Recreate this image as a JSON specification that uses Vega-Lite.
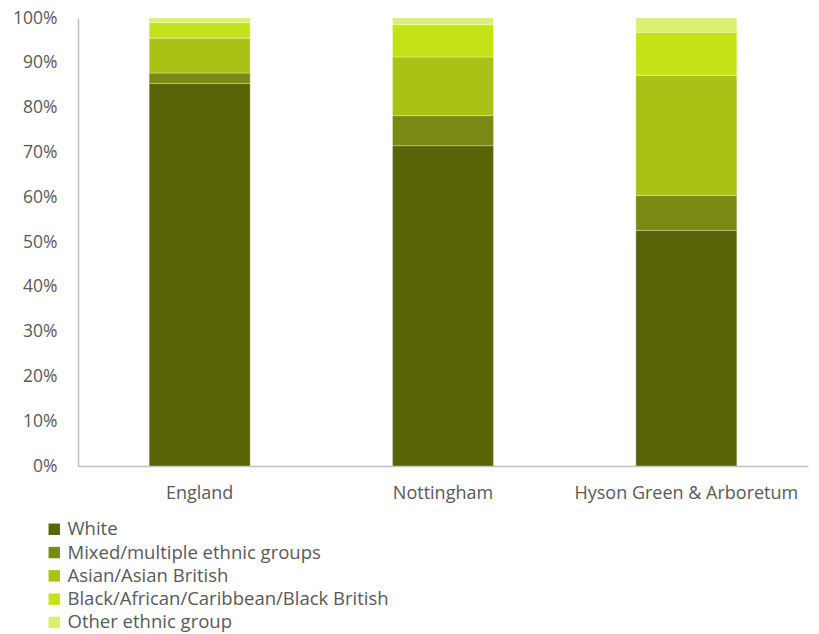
{
  "$schema": "https://vega.github.io/schema/vega-lite/v6.json",
  "autosize": {"type": "none"},
  "padding": {"left": 78, "top": 18, "right": 11, "bottom": 168},
  "width": 730,
  "height": 448,
  "background": "#ffffff",
  "config": {
    "view": {"stroke": null},
    "font": "Open Sans"
  },
  "data": {
    "values": [
      {"area": "England", "group": "White", "k": 1, "value": 85.4},
      {"area": "England", "group": "Mixed/multiple ethnic groups", "k": 2, "value": 2.3},
      {"area": "England", "group": "Asian/Asian British", "k": 3, "value": 7.8},
      {"area": "England", "group": "Black/African/Caribbean/Black British", "k": 4, "value": 3.5},
      {"area": "England", "group": "Other ethnic group", "k": 5, "value": 1.0},
      {"area": "Nottingham", "group": "White", "k": 1, "value": 71.5},
      {"area": "Nottingham", "group": "Mixed/multiple ethnic groups", "k": 2, "value": 6.7},
      {"area": "Nottingham", "group": "Asian/Asian British", "k": 3, "value": 13.1},
      {"area": "Nottingham", "group": "Black/African/Caribbean/Black British", "k": 4, "value": 7.2},
      {"area": "Nottingham", "group": "Other ethnic group", "k": 5, "value": 1.5},
      {"area": "Hyson Green & Arboretum", "group": "White", "k": 1, "value": 52.6},
      {"area": "Hyson Green & Arboretum", "group": "Mixed/multiple ethnic groups", "k": 2, "value": 7.8},
      {"area": "Hyson Green & Arboretum", "group": "Asian/Asian British", "k": 3, "value": 26.8},
      {"area": "Hyson Green & Arboretum", "group": "Black/African/Caribbean/Black British", "k": 4, "value": 9.6},
      {"area": "Hyson Green & Arboretum", "group": "Other ethnic group", "k": 5, "value": 3.2}
    ]
  },
  "mark": {"type": "bar", "stroke": "#ffffff", "strokeWidth": 0.5, "strokeOpacity": 0.6},
  "encoding": {
    "x": {
      "field": "area",
      "type": "nominal",
      "sort": ["England", "Nottingham", "Hyson Green & Arboretum"],
      "scale": {"paddingInner": 0.585, "paddingOuter": 0.2925},
      "axis": {
        "title": null,
        "labelAngle": 0,
        "labelFontSize": 18,
        "labelColor": "#595959",
        "labelPadding": 18,
        "labelLimit": 400,
        "ticks": false,
        "domainColor": "#bfbfbf",
        "domainWidth": 1.5
      }
    },
    "y": {
      "field": "value",
      "type": "quantitative",
      "stack": "normalize",
      "scale": {"domain": [0, 1]},
      "axis": {
        "title": null,
        "format": ".0%",
        "values": [0, 0.1, 0.2, 0.3, 0.4, 0.5, 0.6, 0.7, 0.8, 0.9, 1],
        "grid": false,
        "ticks": false,
        "labelFontSize": 17.5,
        "labelColor": "#595959",
        "labelPadding": 21,
        "domainColor": "#bfbfbf",
        "domainWidth": 1.5
      }
    },
    "color": {
      "field": "group",
      "type": "nominal",
      "scale": {
        "domain": ["White", "Mixed/multiple ethnic groups", "Asian/Asian British", "Black/African/Caribbean/Black British", "Other ethnic group"],
        "range": ["#596409", "#798913", "#aac116", "#c5e219", "#dcf06f"]
      },
      "legend": {
        "title": null,
        "orient": "none",
        "legendX": -33,
        "legendY": 502,
        "direction": "vertical",
        "symbolType": "square",
        "symbolSize": 130,
        "symbolStrokeWidth": 0,
        "symbolOpacity": 1,
        "labelFontSize": 18.5,
        "labelColor": "#595959",
        "labelOffset": 4,
        "rowPadding": 4.3,
        "labelLimit": 500
      }
    },
    "order": {"field": "k", "type": "quantitative"}
  }
}
